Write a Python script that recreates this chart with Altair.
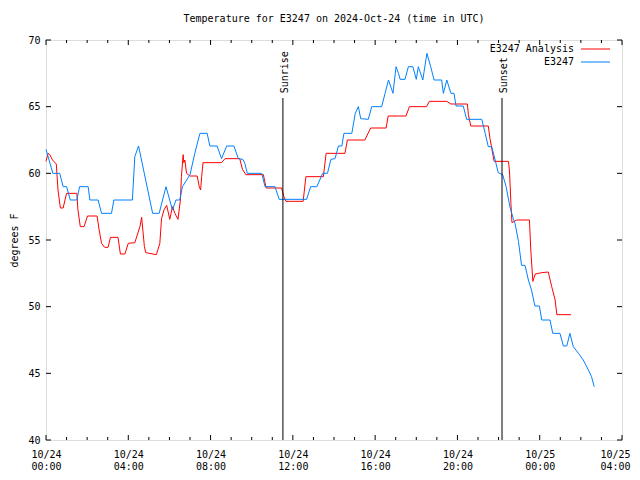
import altair as alt
import pandas as pd

# ---- data (minutes after 2024-10-24 00:00 UTC, degrees F) ----
obs_min = [0, 20, 40, 50, 60, 71, 90, 98, 123, 128, 152, 162, 191, 198, 252, 259, 270, 311, 330, 350,
           369, 379, 390, 398, 420, 434, 449, 470, 478, 499, 512, 527, 548, 561, 574, 580, 587, 629, 639, 668,
           680, 760, 772, 790, 807, 821, 831, 843, 853, 863, 869, 892, 902, 911, 918, 940, 950, 979, 989, 999,
           1012, 1021, 1028, 1033, 1047, 1057, 1070, 1080, 1086, 1099, 1111, 1122, 1132, 1154, 1159, 1169, 1181, 1190, 1196, 1217,
           1227, 1271, 1281, 1290, 1300, 1310, 1319, 1332, 1342, 1353, 1363, 1368, 1378, 1387, 1397, 1407, 1416, 1426, 1439, 1446,
           1470, 1478, 1499, 1509, 1519, 1528, 1538, 1553, 1567, 1582, 1591, 1599]
obs_temp = [61.8, 60.0, 60.0, 59.0, 59.0, 58.0, 58.0, 59.0, 59.0, 58.0, 58.0, 57.0, 57.0, 58.0, 58.0, 61.25, 62.05, 57.0, 57.0, 59.0,
            57.25, 58.0, 58.0, 59.0, 59.9, 61.5, 63.0, 63.0, 62.05, 62.05, 61.1, 62.05, 62.05, 61.1, 61.05, 60.75, 60.0, 60.0, 59.0, 59.0,
            58.05, 58.05, 59.0, 59.0, 60.0, 60.0, 61.05, 61.1, 62.05, 62.05, 63.0, 63.0, 64.5, 65.0, 64.1, 64.05, 65.0, 65.0, 66.0, 67.0,
            66.0, 68.0, 67.5, 67.05, 67.05, 68.0, 68.0, 67.05, 68.0, 67.0, 69.0, 68.0, 67.0, 67.0, 66.0, 67.0, 66.0, 66.0, 65.05, 65.05,
            64.05, 64.05, 63.0, 62.0, 62.0, 61.0, 60.05, 59.9, 59.0, 57.5, 56.6, 56.25, 54.9, 53.1, 53.1, 52.0, 51.25, 50.05, 50.05, 49.0,
            49.0, 48.0, 48.0, 47.05, 47.05, 48.0, 47.0, 46.5, 46.0, 45.25, 44.75, 44.0]

ana_min = [0, 6, 11, 19, 30, 35, 42, 50, 60, 90, 93, 100, 111, 121, 149, 155, 162, 171, 181, 188,
           210, 217, 230, 240, 259, 274, 279, 287, 291, 322, 332, 337, 344, 352, 361, 369, 376, 385, 392, 395,
           400, 402, 405, 410, 420, 441, 447, 451, 454, 458, 512, 522, 565, 573, 583, 634, 642, 687, 694, 700,
           750, 758, 809, 817, 872, 879, 930, 947, 992, 998, 1050, 1060, 1110, 1118, 1169, 1181, 1229, 1232, 1239, 1290,
           1295, 1300, 1307, 1349, 1352, 1356, 1359, 1373, 1410, 1414, 1420, 1427, 1446, 1465, 1475, 1485, 1490, 1531]
ana_temp = [60.9, 61.5, 61.4, 61.0, 60.7, 58.75, 57.4, 57.4, 58.5, 58.5, 57.3, 56.0, 56.0, 56.8, 56.8, 55.75, 54.75, 54.45, 54.45, 55.2,
            55.2, 53.95, 53.95, 54.75, 54.8, 56.0, 56.7, 54.5, 54.05, 53.9, 54.75, 56.6, 57.25, 57.6, 56.55, 57.5, 57.0, 56.55, 58.0, 59.75,
            61.4, 60.8, 61.0, 60.0, 59.8, 59.8, 59.0, 58.75, 59.75, 60.8, 60.8, 61.1, 61.1, 60.3, 59.9, 59.9, 58.9, 58.9, 58.25, 57.9,
            57.9, 59.75, 59.75, 61.5, 61.5, 62.5, 62.5, 63.4, 63.4, 64.3, 64.3, 65.0, 65.0, 65.4, 65.4, 65.2, 65.2, 64.4, 63.55, 63.55,
            62.6, 61.9, 60.9, 60.9, 60.1, 57.75, 56.3, 56.5, 56.5, 54.25, 51.9, 52.45, 52.55, 52.6, 51.5, 50.5, 49.4, 49.4]

event_names = ["Sunrise", "Sunset"]
event_min = [691, 1330]

x_major = [0, 4, 8, 12, 16, 20, 24, 28]
x_minor = [h for h in range(0, 29) if h % 4 != 0]
y_major = [40, 45, 50, 55, 60, 65, 70]

series_names = ["E3247 Analysis", "E3247"]
series_colors = ["#ff0000", "#0080ff"]
chart_title = "Temperature for E3247 on 2024-Oct-24 (time in UTC)"

FONT = "DejaVu Sans Mono"
W, H = 576, 400

obs = pd.DataFrame({"h": [m / 60 for m in obs_min], "t": obs_temp})
ana = pd.DataFrame({"h": [m / 60 for m in ana_min], "t": ana_temp})
events = pd.DataFrame({"name": event_names, "h": [m / 60 for m in event_min],
                       "top": [65.65] * 2, "bot": [40] * 2, "lab": [66.0] * 2})
xmaj = pd.DataFrame({"h": x_major})
xmin = pd.DataFrame({"h": x_minor})
ymaj = pd.DataFrame({"t": y_major})

xscale = alt.Scale(domain=[0, 28], nice=False, zero=False)
yscale = alt.Scale(domain=[40, 70], nice=False, zero=False)

label_expr = ("[datum.value < 24 ? '10/24' : '10/25', "
              "(datum.value % 24 < 10 ? '0' : '') + (datum.value % 24) + ':00']")

xaxis = alt.Axis(values=x_major, labelExpr=label_expr, ticks=False, domain=False, grid=False,
                 title=None, labelFont=FONT, labelFontSize=10, labelColor="black",
                 labelPadding=9, labelLineHeight=12, labelFlush=False,
                 labelOffset={"expr": "datum.value >= 28 ? -7 : 0"})
yaxis = alt.Axis(values=y_major, ticks=False, domain=False, grid=False, title="degrees F",
                 labelFont=FONT, labelFontSize=10, labelColor="black", labelPadding=6,
                 titleFont=FONT, titleFontSize=10, titleFontWeight="normal", titleColor="black",
                 titlePadding=8)

base_x = alt.X("h:Q", scale=xscale, axis=xaxis)
base_y = alt.Y("t:Q", scale=yscale, axis=yaxis)

red = alt.Chart(ana).mark_line(color=series_colors[0], strokeWidth=1, interpolate="linear").encode(
    x=base_x, y=base_y)
blue = alt.Chart(obs).mark_line(color=series_colors[1], strokeWidth=1, interpolate="linear").encode(
    x=alt.X("h:Q", scale=xscale), y=alt.Y("t:Q", scale=yscale))

ev_rule = alt.Chart(events).mark_rule(color="black", strokeWidth=1).encode(
    x=alt.X("h:Q", scale=xscale), y=alt.Y("top:Q", scale=yscale), y2="bot:Q")
ev_text = alt.Chart(events).mark_text(angle=270, align="left", baseline="middle", dy=2,
                                      font=FONT, fontSize=10, color="black").encode(
    x=alt.X("h:Q", scale=xscale), y=alt.Y("lab:Q", scale=yscale), text="name:N")

def xticks(df, length, top):
    if top:
        return alt.Chart(df).mark_rule(color="black").encode(
            x=alt.X("h:Q", scale=xscale), y=alt.value(0), y2=alt.value(length))
    return alt.Chart(df).mark_rule(color="black").encode(
        x=alt.X("h:Q", scale=xscale), y=alt.value(H), y2=alt.value(H - length))

def yticks(df, length, right):
    if right:
        return alt.Chart(df).mark_rule(color="black").encode(
            y=alt.Y("t:Q", scale=yscale), x=alt.value(W), x2=alt.value(W - length))
    return alt.Chart(df).mark_rule(color="black").encode(
        y=alt.Y("t:Q", scale=yscale), x=alt.value(0), x2=alt.value(length))

tick_layers = [xticks(xmaj, 5, False), xticks(xmaj, 5, True), xticks(xmin, 3, False), xticks(xmin, 3, True),
               yticks(ymaj, 5, False), yticks(ymaj, 5, True)]

dummy = alt.Data(values=[{}])
leg = []
for i, (name, col) in enumerate(zip(series_names, series_colors)):
    yy = 9 + 13 * i
    leg.append(alt.Chart(dummy).mark_text(align="right", baseline="middle", font=FONT, fontSize=10,
                                          color="black").encode(
        x=alt.value(528), y=alt.value(yy), text=alt.value(name)))
    leg.append(alt.Chart(dummy).mark_rule(color=col, strokeWidth=1).encode(
        x=alt.value(535), x2=alt.value(564), y=alt.value(yy)))

title_layer = alt.Chart(dummy).mark_text(align="center", baseline="middle", font=FONT, fontSize=10,
                                         color="black").encode(
    x=alt.value(W / 2), y=alt.value(-21), text=alt.value(chart_title))

chart = alt.layer(red, blue, ev_rule, ev_text, *tick_layers, *leg, title_layer).properties(
    width=W, height=H,
    autosize=alt.AutoSizeParams(type="none"),
    padding={"left": 38, "top": 32, "right": 10, "bottom": 30},
).configure_view(stroke="black", strokeWidth=1).configure(background="white")

chart.save("out.html", embed_options={"renderer": "svg", "actions": False})
